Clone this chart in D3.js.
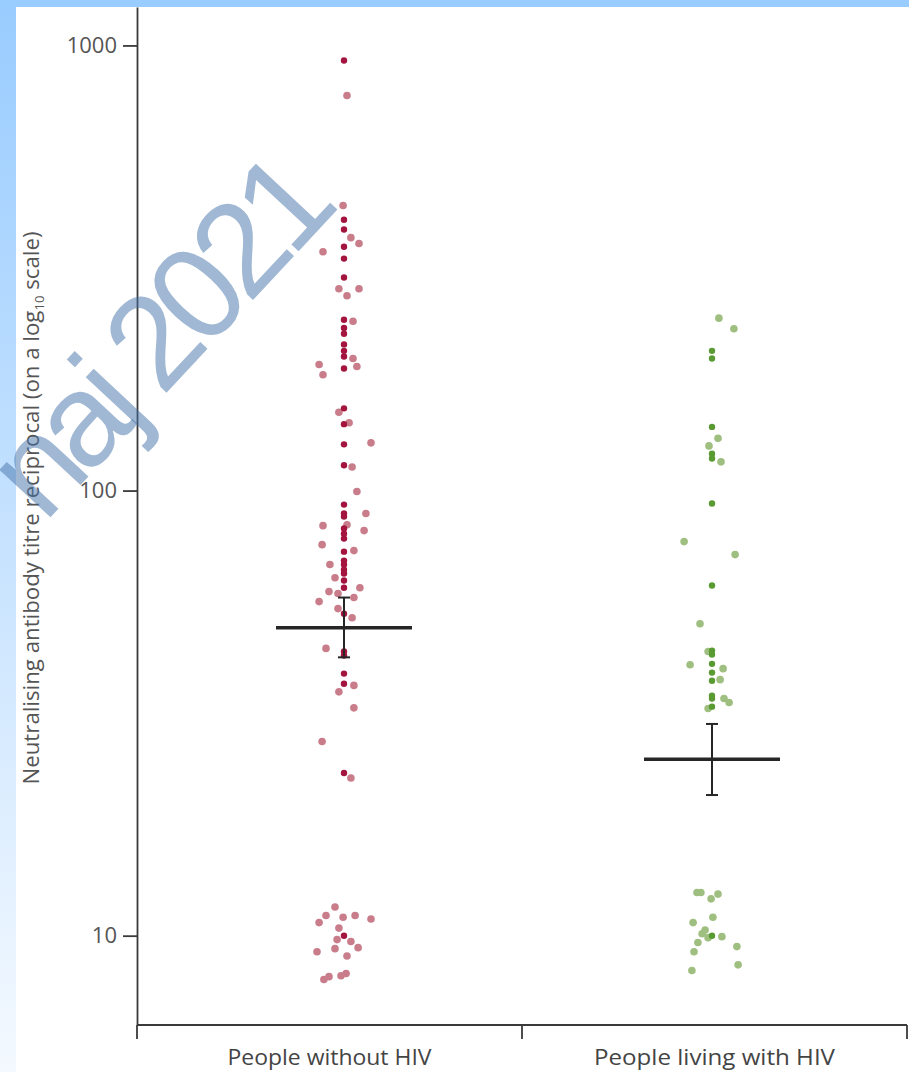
<!DOCTYPE html>
<html>
<head>
<meta charset="utf-8">
<script src="https://cdn.jsdelivr.net/npm/d3@7"></script>
<style>
body { margin: 0; background: #fff; }
svg { display: block; font-family: 'Open Sans', sans-serif; }
</style>
</head>
<body>
<svg width="909" height="1072"></svg>
<script>
// groups on the x axis
var groups = ['People without HIV', 'People living with HIV'];

// neutralising titres, people without HIV
var titreWithoutHIV = [925, 772, 437, 406, 386, 370, 359, 344, 353, 332,
	301, 284, 284, 274, 242, 240, 232, 225, 213, 206,
	200, 198, 192, 190, 188, 182, 153, 150, 142, 141,
	128, 127, 114, 113, 99.5, 93, 88.8, 87.4, 88.8, 83.4,
	83.8, 82.2, 80, 78, 81.3, 75.6, 72.9, 73.3, 69.6, 68.2,
	66.4, 68.2, 65.1, 63.7, 62.8, 60.5, 60.5, 59.3, 58.7, 57.5,
	56.3, 54.3, 52.9, 51.8, 44.2, 43.5, 42.6, 38.8, 36.8, 36.5,
	35.3, 32.5, 27.3, 23.2, 22.6, 11.6, 11.1, 10.7, 11.0, 11.1,
	10.9, 10.4, 10.0, 9.8, 9.7, 9.4, 9.35, 9.2, 9.0, 8.09, 7.97, 8.13, 8.22];
// horizontal spread of each dot (-1 .. 1), 0 = on the centre line
var jitterWithoutHIV = [0, 0.1, -0.03, 0, 0, 0.23, 0.5, -0.7, 0, 0,
	0, -0.17, 0.5, 0.1, 0, 0.3, 0, 0, 0, 0,
	0, 0.3, -0.83, 0.43, 0, -0.7, 0, -0.17, 0.17, 0,
	0.9, 0, 0, 0.27, 0.43, 0, 0, 0, 0.73, -0.7,
	0.1, 0, 0, 0, 0.67, -0.73, 0, 0.33, 0, 0,
	0, -0.47, 0, -0.3, 0, 0.53, 0, -0.5, -0.2, 0.33,
	-0.83, -0.2, 0, 0.27, -0.6, 0, 0, 0, 0, 0.33,
	-0.17, 0.33, -0.73, 0, 0.23, -0.3, -0.6, -0.83, -0.03, 0.37,
	0.9, -0.17, 0, -0.23, 0.23, 0.47, -0.3, -0.9, 0.1, -0.5, -0.67, -0.1, 0.07];

// people living with HIV
var titreWithHIV = [244, 231, 206, 198, 139, 131, 126, 121, 118, 116,
	93.5, 76.8, 71.8, 61.2, 50.2, 43.5, 43.7, 42.8, 40.6, 40.8,
	39.8, 39.0, 37.4, 37.6, 34.6, 34.1, 34.1, 33.4, 32.7, 32.4,
	12.5, 12.5, 12.1, 12.4, 11.0, 10.7, 10.3, 10.1, 10.0, 9.95,
	9.9, 9.65, 9.45, 9.2, 8.6, 8.35];
var jitterWithHIV = [0.23, 0.73, 0, 0, 0, 0.2, -0.1, 0, 0, 0.3,
	0, -0.93, 0.77, 0, -0.4, -0.13, 0, 0, -0.73, 0,
	0.37, 0, 0, 0.27, 0, 0, 0.4, 0.57, 0, -0.13,
	-0.5, -0.37, -0.03, 0.2, 0.03, -0.63, -0.23, -0.33, 0, 0.33,
	-0.13, -0.47, 0.83, -0.6, 0.87, -0.67];

// geometric means and 95% CI
var geoMeans = [49.2, 24.9];
var ciLower = [42.2, 20.7];
var ciUpper = [57.5, 29.9];

var yTickValues = [10, 100, 1000];

function main() {
	var svg = d3.select('svg'),
		width = +svg.attr('width'),
		height = +svg.attr('height');

	// page frame: blue strip on top, fading strip on the left
	var grad = svg.append('defs').append('linearGradient')
		.attr('id', 'edge')
		.attr('x1', 0).attr('y1', 0).attr('x2', 0).attr('y2', 1);
	grad.append('stop').attr('offset', '0%').attr('stop-color', '#99ccff');
	grad.append('stop').attr('offset', '100%').attr('stop-color', '#f4f9ff');
	svg.append('rect').attr('width', width).attr('height', height).attr('fill', '#fff');
	svg.append('rect').attr('width', 16).attr('height', height).attr('fill', 'url(#edge)');
	svg.append('rect').attr('width', width).attr('height', 7).attr('fill', '#99ccff');

	var x = d3.scaleBand().domain(groups).range([137, 907]);
	var xDots = d3.scalePoint().domain(groups).range([344, 712]);
	var jitter = d3.scaleLinear().domain([-1, 1]).range([-30, 30]);
	var y = d3.scaleLog().domain([6.3, 1220]).range([1025, 7]);

	var colors = {
		'People without HIV': { core: '#a3153f', side: '#c97d8a' },
		'People living with HIV': { core: '#5a9a32', side: '#9fbf80' }
	};

	var points = [];
	titreWithoutHIV.forEach(function(v, i) {
		points.push({ group: groups[0], value: v, jit: jitterWithoutHIV[i] });
	});
	titreWithHIV.forEach(function(v, i) {
		points.push({ group: groups[1], value: v, jit: jitterWithHIV[i] });
	});
	// dots on the centre line go on top
	points.sort(function(a, b) { return (a.jit === 0) - (b.jit === 0); });

	svg.append('g').selectAll('circle')
		.data(points)
		.enter().append('circle')
		.attr('cx', function(d) { return xDots(d.group) + jitter(d.jit); })
		.attr('cy', function(d) { return y(d.value); })
		.attr('r', function(d) { return d.jit === 0 ? 3.2 : 3.8; })
		.attr('fill', function(d) { return d.jit === 0 ? colors[d.group].core : colors[d.group].side; });

	// mean and CI
	var stats = svg.append('g').attr('stroke', '#262626');
	groups.forEach(function(gName, i) {
		var cx = xDots(gName);
		stats.append('line')
			.attr('x1', cx).attr('x2', cx)
			.attr('y1', y(ciLower[i])).attr('y2', y(ciUpper[i]))
			.attr('stroke-width', 2);
		[ciLower[i], ciUpper[i]].forEach(function(c) {
			stats.append('line')
				.attr('x1', cx - 6).attr('x2', cx + 6)
				.attr('y1', y(c)).attr('y2', y(c))
				.attr('stroke-width', 2);
		});
		stats.append('line')
			.attr('x1', cx - 68).attr('x2', cx + 68)
			.attr('y1', y(geoMeans[i])).attr('y2', y(geoMeans[i]))
			.attr('stroke-width', 3.5);
	});

	// y axis
	var yAxis = svg.append('g')
		.attr('transform', 'translate(137,0)')
		.call(d3.axisLeft(y).tickValues(yTickValues).tickFormat(d3.format('d'))
			.tickSize(14).tickSizeOuter(0).tickPadding(6));
	yAxis.selectAll('path, line').attr('stroke', '#3a3a3a').attr('stroke-width', 1.8);
	yAxis.selectAll('text').attr('font-size', 22).attr('fill', '#555')
		.attr('font-family', "'Open Sans', sans-serif");

	// x axis: base line, ticks at group edges, labels under groups
	var x0 = x.range()[0], x1 = x.range()[1];
	var xg = svg.append('g').attr('stroke', '#3a3a3a').attr('stroke-width', 1.8);
	xg.append('line').attr('x1', x0).attr('x2', x1).attr('y1', y.range()[0]).attr('y2', y.range()[0]);
	var edges = [x0].concat(groups.map(function(d) { return x(d) + x.bandwidth(); }));
	xg.selectAll('line.edge')
		.data(edges)
		.enter().append('line')
		.attr('class', 'edge')
		.attr('x1', function(d) { return d; }).attr('x2', function(d) { return d; })
		.attr('y1', y.range()[0]).attr('y2', y.range()[0] + 14);

	var labelWidths = [204, 241];
	svg.append('g').selectAll('text')
		.data(groups)
		.enter().append('text')
		.attr('x', function(d) { return x(d) + x.bandwidth() / 2; })
		.attr('y', 1065)
		.attr('text-anchor', 'middle')
		.attr('font-size', 22)
		.attr('fill', '#444')
		.attr('textLength', function(d, i) { return labelWidths[i]; })
		.attr('lengthAdjust', 'spacingAndGlyphs')
		.text(function(d) { return d; });

	// y axis title
	var yt = svg.append('text')
		.attr('transform', 'translate(39,508) rotate(-90)')
		.attr('text-anchor', 'middle')
		.attr('font-size', 22)
		.attr('fill', '#555')
		.attr('textLength', 553)
		.attr('lengthAdjust', 'spacingAndGlyphs');
	yt.append('tspan').text('Neutralising antibody titre reciprocal (on a log');
	yt.append('tspan').attr('font-size', 13).attr('dy', 5).text('10');
	yt.append('tspan').attr('dy', -5).text(' scale)');

	// watermark, runs off the left edge as in the original
	svg.append('text')
		.attr('transform', 'translate(335,212) rotate(-47)')
		.attr('text-anchor', 'end')
		.attr('font-family', "'Liberation Sans', Arial, sans-serif")
		.attr('font-size', 132)
		.attr('letter-spacing', -10)
		.attr('fill', '#4472aa')
		.attr('fill-opacity', 0.5)
		.text('naj 2021');
}
main();
</script>
</body>
</html>
